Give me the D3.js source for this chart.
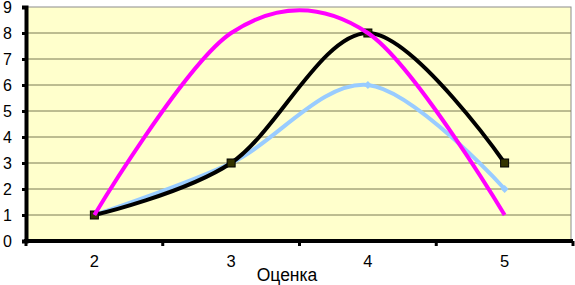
<!DOCTYPE html>
<html>
<head>
<meta charset="utf-8">
<script src="https://cdn.jsdelivr.net/npm/d3@7"></script>
<style>
  body { margin: 0; background: #fff; }
  svg { display: block; font-family: Arial, "Liberation Sans", sans-serif; }
</style>
</head>
<body>
<svg id="chart"></svg>
<script>
let w = 575;
let h = 285;

// data
let grades = ["2", "3", "4", "5"];
let pinkSeries = [1, 8, 8, 1];
let blackSeries = [1, 3, 8, 3];
let blueSeries = [1, 3, 6, 2];
let yTicks = [0, 1, 2, 3, 4, 5, 6, 7, 8, 9];

let plotLeft = 26, plotRight = 573, plotTop = 7, plotBottom = 241;

let chart = d3.select("#chart").attr("width", w).attr("height", h);

let xScale = d3.scaleBand().domain(grades).range([plotLeft, plotRight]);
let yScale = d3.scaleLinear().domain([0, 9]).range([plotBottom, plotTop]);

// plot area
chart.append("rect")
  .attr("x", plotLeft).attr("y", plotTop)
  .attr("width", plotRight - plotLeft - 2).attr("height", plotBottom - plotTop)
  .attr("fill", "#ffffcc")
  .attr("stroke", "#8c8c8c")
  .attr("stroke-width", 1);

// gridlines
chart.append("g")
  .selectAll("line")
  .data(yTicks.slice(1, -1))
  .join("line")
  .attr("x1", plotLeft).attr("x2", plotRight - 2)
  .attr("y1", d => yScale(d)).attr("y2", d => yScale(d))
  .attr("stroke", "#7a7a55")
  .attr("stroke-width", 1);

// y axis
let yAxis = d3.axisLeft(yScale).tickValues(yTicks).tickSize(4).tickPadding(10);
let yAxisGroup = chart.append("g")
  .attr("transform", `translate(${plotLeft},0)`)
  .call(yAxis);
yAxisGroup.select(".domain").attr("stroke", "#000").attr("stroke-width", 4);
yAxisGroup.selectAll(".tick line").attr("stroke", "#000").attr("stroke-width", 3);
yAxisGroup.selectAll("text")
  .attr("font-size", 16).attr("fill", "#000")
  .attr("font-family", "Arial, 'Liberation Sans', sans-serif");

// x axis: ticks sit between categories
let xAxisGroup = chart.append("g")
  .attr("transform", `translate(0,${plotBottom})`);
xAxisGroup.append("line")
  .attr("x1", plotLeft - 2).attr("x2", plotRight)
  .attr("stroke", "#000").attr("stroke-width", 4);
let boundaries = grades.map(g => xScale(g)).concat([plotRight]);
xAxisGroup.selectAll(".tk")
  .data(boundaries)
  .join("line")
  .attr("class", "tk")
  .attr("x1", d => d).attr("x2", d => d)
  .attr("y1", 0).attr("y2", 5)
  .attr("stroke", "#000").attr("stroke-width", 3);
xAxisGroup.selectAll("text")
  .data(grades)
  .join("text")
  .attr("x", d => xScale(d) + xScale.bandwidth() / 2)
  .attr("y", 26)
  .attr("text-anchor", "middle")
  .attr("font-size", 16.5)
  .text(d => d);

chart.append("text")
  .attr("x", 287).attr("y", 281)
  .attr("text-anchor", "middle")
  .attr("font-size", 17.5)
  .text("Оценка");

let cx = d => xScale(d) + xScale.bandwidth() / 2;
let line = d3.line()
  .x(d => cx(d.g))
  .y(d => yScale(d.v))
  .curve(d3.curveCardinal.tension(0));

function toPoints(vals) {
  return grades.map((g, i) => ({ g: g, v: vals[i] }));
}

// light blue series with diamond markers
chart.append("path")
  .datum(toPoints(blueSeries))
  .attr("d", line)
  .attr("fill", "none")
  .attr("stroke", "#99ccff")
  .attr("stroke-width", 4);
chart.append("g").selectAll("path")
  .data(toPoints(blueSeries))
  .join("path")
  .attr("d", d3.symbol(d3.symbolDiamond2, 40))
  .attr("transform", d => `translate(${cx(d.g)},${yScale(d.v)})`)
  .attr("fill", "#99ccff");

// black series with square markers
chart.append("path")
  .datum(toPoints(blackSeries))
  .attr("d", line)
  .attr("fill", "none")
  .attr("stroke", "#000")
  .attr("stroke-width", 4);
chart.append("g").selectAll("rect")
  .data(toPoints(blackSeries))
  .join("rect")
  .attr("x", d => cx(d.g) - 4).attr("y", d => yScale(d.v) - 4)
  .attr("width", 8).attr("height", 8)
  .attr("fill", "#333300")
  .attr("stroke", "#000")
  .attr("stroke-width", 1);

// magenta series
chart.append("path")
  .datum(toPoints(pinkSeries))
  .attr("d", line)
  .attr("fill", "none")
  .attr("stroke", "#ff00ff")
  .attr("stroke-width", 4);
</script>
</body>
</html>
